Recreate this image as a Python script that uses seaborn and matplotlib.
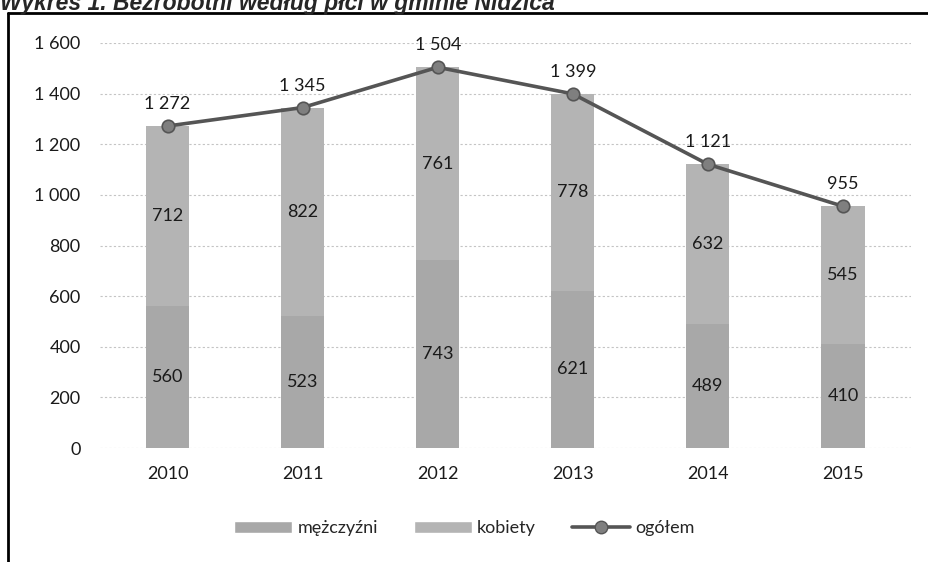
import matplotlib
matplotlib.use("Agg")
import matplotlib.pyplot as plt
import numpy as np
import seaborn as sns
from matplotlib.lines import Line2D
from matplotlib.patches import Patch

years = ["2010", "2011", "2012", "2013", "2014", "2015"]
men = [560, 523, 743, 621, 489, 410]
women = [712, 822, 761, 778, 632, 545]
total = [1272, 1345, 1504, 1399, 1121, 955]
yticks = [0, 200, 400, 600, 800, 1000, 1200, 1400, 1600]

COLOR_MEN = "#a8a8a8"
COLOR_WOMEN = "#b4b4b4"
COLOR_LINE = "#555555"


def fmt(v):
    return f"{v:,}".replace(",", " ")


sns.set_style("white")
plt.rcParams["font.family"] = ["Lato", "DejaVu Sans"]

fig = plt.figure(figsize=(9.29, 5.62), dpi=100)
ax = fig.add_axes([0.1076, 0.2028, 0.8725, 0.7207])

# stacked bars: total (women colour) underneath, men drawn over it
sns.barplot(x=years, y=total, color=COLOR_WOMEN, width=0.32,
            saturation=1, linewidth=0, ax=ax, zorder=2)
sns.barplot(x=years, y=men, color=COLOR_MEN, width=0.32,
            saturation=1, linewidth=0, ax=ax, zorder=3)

xs = np.arange(len(years))
ax.plot(xs, total, color=COLOR_LINE, lw=2.6, marker="o", ms=9,
        mfc="#7f7f7f", mec="#555555", mew=1.2, zorder=5)

for i in range(len(years)):
    ax.text(i, men[i] / 2, fmt(men[i]), ha="center", va="center",
            fontsize=13, color="#1a1a1a", zorder=6)
    ax.text(i, men[i] + women[i] / 2, fmt(women[i]), ha="center",
            va="center", fontsize=13, color="#1a1a1a", zorder=6)
    ax.annotate(fmt(total[i]), (i, total[i]), xytext=(0, 10),
                textcoords="offset points", ha="center", va="bottom",
                fontsize=13, color="#1a1a1a", zorder=6)

ax.set_ylim(0, 1600)
ax.set_xlim(-0.5, len(years) - 0.5)
ax.set_yticks(yticks)
ax.set_yticklabels([fmt(v) for v in yticks])
ax.tick_params(axis="both", length=0, labelsize=13, colors="#1a1a1a")
ax.tick_params(axis="x", pad=13)
ax.tick_params(axis="y", pad=14)
ax.yaxis.grid(True, color="#c4c4c4", lw=0.8, ls=(0, (2, 2)))
ax.set_axisbelow(True)
for s in ax.spines.values():
    s.set_visible(False)

handles = [
    Patch(facecolor=COLOR_MEN, label="mężczyźni"),
    Patch(facecolor=COLOR_WOMEN, label="kobiety"),
    Line2D([0], [0], color=COLOR_LINE, lw=2.6, marker="o", ms=9,
           mfc="#7f7f7f", mec="#555555", label="ogółem"),
]
fig.legend(handles=handles, loc="center", bbox_to_anchor=(0.5, 0.06),
           ncol=3, frameon=False, fontsize=13, handlelength=3.2,
           handleheight=0.7, columnspacing=2.0, handletextpad=0.3)

# outer frame (only the top and left edges are visible in the scan)
fig.add_artist(Line2D([0.009, 1.0], [1 - 12.5 / 562] * 2,
                      transform=fig.transFigure, color="black", lw=2))
fig.add_artist(Line2D([0.009, 0.009], [0, 1 - 12.5 / 562],
                      transform=fig.transFigure, color="black", lw=2))

fig.text(0.0, 1 - 10 / 562, "Wykres 1. Bezrobotni według płci w gminie Nidzica",
         family=["Liberation Sans", "DejaVu Sans"], fontsize=16.5,
         fontweight="bold", fontstyle="italic", va="baseline", ha="left")

fig.savefig("out.png", dpi=100)
